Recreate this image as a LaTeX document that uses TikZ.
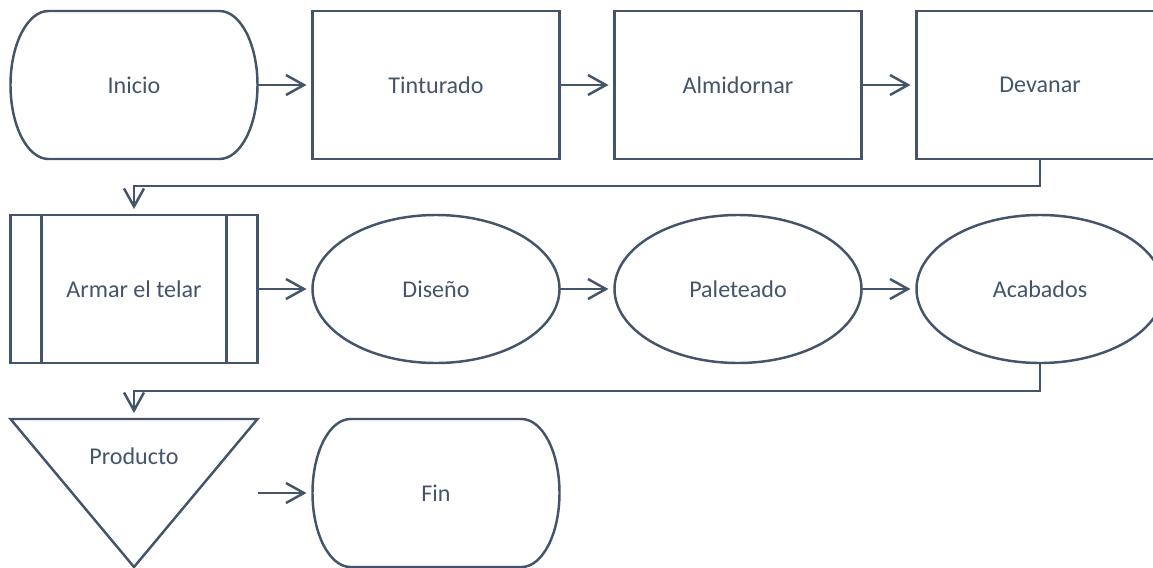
\documentclass[tikz,border=0pt]{standalone}
\usepackage{fontspec}
\setmainfont{Carlito}
\usetikzlibrary{arrows.meta,positioning,calc,shapes.geometric}
\definecolor{flowSlate}{RGB}{68,84,106}

\begin{document}
\begin{tikzpicture}[
  outline/.style={draw=flowSlate, line width=1.4pt},
  shapebase/.style={minimum width=4.94cm, minimum height=2.96cm, inner sep=0pt,
                    outer sep=0pt, font=\fontsize{13.7}{16}\selectfont, text=flowSlate},
  procbox/.style={shapebase, rectangle, outline},
  termnode/.style={shapebase, rectangle},
  ovalnode/.style={shapebase, ellipse, outline},
  arr/.style={-{Straight Barb[length=3.6mm,width=4mm]}, draw=flowSlate,
              line width=1.4pt, shorten >=1.2mm},
  node distance=1.12cm and 1.1cm,
]

\def\rx{0.76}  % x radius of terminator ends
\def\ry{1.48}  % y radius of terminator ends
\def\bar{0.62} % inset of the predefined-process bars

\clip (0,0) rectangle (23.06,-11.34);

% ─── Row 1 ─────────────────────────────────────────────
\node[termnode] (inicio) at (2.68,-1.70) {Inicio};
\node[procbox, right=of inicio] (tinturado) {Tinturado};
\node[procbox, right=of tinturado] (almidornar) {Almidornar};
\node[procbox, right=of almidornar] (devanar) {Devanar};

% ─── Row 2 ─────────────────────────────────────────────
\node[procbox, below=of inicio] (armar) {Armar el telar};
\node[ovalnode, right=of armar] (diseno) {Diseño};
\node[ovalnode, right=of diseno] (paleteado) {Paleteado};
\node[ovalnode, right=of paleteado] (acabados) {Acabados};

% ─── Row 3 ─────────────────────────────────────────────
\node[termnode, below=of armar] (producto) {};
\node[shapebase, minimum width=0pt, minimum height=0pt]
     (productolbl) at ($(producto.north)+(0,-0.74)$) {Producto};
\node[termnode, right=of producto] (fin) {Fin};

% terminator outlines
\foreach \n in {inicio,fin}{
  \draw[outline] ($(\n.north west)+(\rx,0)$) -- ($(\n.north east)+(-\rx,0)$)
    arc[start angle=90, end angle=-90, x radius=\rx, y radius=\ry]
    -- ($(\n.south west)+(\rx,0)$)
    arc[start angle=270, end angle=90, x radius=\rx, y radius=\ry] -- cycle;
}
% predefined process bars
\draw[outline] ($(armar.north west)+(\bar,0)$) -- ($(armar.south west)+(\bar,0)$);
\draw[outline] ($(armar.north east)+(-\bar,0)$) -- ($(armar.south east)+(-\bar,0)$);
% merge triangle
\draw[outline] (producto.north west) -- (producto.north east) -- (producto.south) -- cycle;

% ─── Connectors ────────────────────────────────────────
\foreach \fr/\to in {inicio/tinturado, tinturado/almidornar, almidornar/devanar,
                     armar/diseno, diseno/paleteado, paleteado/acabados,
                     producto/fin}{
  \draw[arr] (\fr.east) -- (\to.west);
}
\draw[arr] (devanar.south) -- ++(0,-0.54) -| (armar.north);
\draw[arr] (acabados.south) -- ++(0,-0.56) -| (producto.north);

\end{tikzpicture}
\end{document}
